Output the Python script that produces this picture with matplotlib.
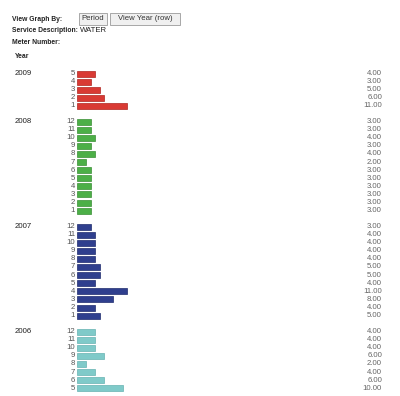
import matplotlib
matplotlib.use("Agg")
import matplotlib.pyplot as plt
from matplotlib.patches import FancyBboxPatch

years = ["2009", "2008", "2007", "2006"]
periods_2009 = [5, 4, 3, 2, 1]
values_2009 = [4.0, 3.0, 5.0, 6.0, 11.0]
periods_2008 = [12, 11, 10, 9, 8, 7, 6, 5, 4, 3, 2, 1]
values_2008 = [3.0, 3.0, 4.0, 3.0, 4.0, 2.0, 3.0, 3.0, 3.0, 3.0, 3.0, 3.0]
periods_2007 = [12, 11, 10, 9, 8, 7, 6, 5, 4, 3, 2, 1]
values_2007 = [3.0, 4.0, 4.0, 4.0, 4.0, 5.0, 5.0, 4.0, 11.0, 8.0, 4.0, 5.0]
periods_2006 = [12, 11, 10, 9, 8, 7, 6, 5]
values_2006 = [4.0, 4.0, 4.0, 6.0, 2.0, 4.0, 6.0, 10.0]

groups = [
    (years[0], periods_2009, values_2009, "#d93a34", "#b02520", 73.5),
    (years[1], periods_2008, values_2008, "#4caf47", "#3a8f36", 121.5),
    (years[2], periods_2007, values_2007, "#2f3f8e", "#1f2c6e", 226.5),
    (years[3], periods_2006, values_2006, "#7fcac9", "#66b2b1", 331.5),
]

W, H = 400, 396
fig = plt.figure(figsize=(W / 100, H / 100), dpi=100)
plt.rcParams['font.family'] = ['Liberation Sans', 'DejaVu Sans']

# overlay axes in pixel coordinates
ov = fig.add_axes([0, 0, 1, 1])
ov.set_xlim(0, W)
ov.set_ylim(H, 0)
ov.axis("off")

# bar axes: x in value units, y in pixels
x0_px = 77.0
px_per_unit = 4.55
ax = fig.add_axes([0, 0, 1, 1], facecolor="none")
ax.set_xlim(-x0_px / px_per_unit, (W - x0_px) / px_per_unit)
ax.set_ylim(H, 0)
ax.axis("off")

fs = 5.6
fsb = 4.9
dark = "#222222"
gray = "#555555"
lgray = "#666666"
step = 8.1

for yr, periods, vals, col, edge, ystart in groups:
    ys = [ystart + i * step for i in range(len(periods))]
    ax.barh(ys, vals, height=6.0, left=0, color=col, edgecolor=edge, linewidth=0.5)
    ov.text(15, ystart, yr, fontsize=fs, color=dark, va="center", ha="left")
    for y, p, v in zip(ys, periods, vals):
        ov.text(75, y, str(p), fontsize=fs, color=gray, va="center", ha="right")
        ov.text(382, y, f"{v:.2f}", fontsize=fs, color=lgray, va="center", ha="right")

# header
ov.text(12, 19.5, "View Graph By:", fontsize=fsb, fontweight="bold", color=dark, va="center")
for (x, w, label) in [(79, 28, "Period"), (110, 70, "View Year (row)")]:
    ov.add_patch(FancyBboxPatch((x, 13), w, 12, boxstyle="square,pad=0",
                                facecolor="#f0f0f0", edgecolor="#9a9a9a", linewidth=0.6))
    ov.text(x + w / 2, 19, label, fontsize=fs, color="#333333", va="center", ha="center")
ov.text(12, 31, "Service Description:", fontsize=fsb, fontweight="bold", color=dark, va="center")
ov.text(80, 31, "WATER", fontsize=fs, color=dark, va="center")
ov.text(12, 42, "Meter Number:", fontsize=fsb, fontweight="bold", color=dark, va="center")
ov.text(15, 57, "Year", fontsize=fsb, fontweight="bold", color=dark, va="center")

fig.savefig("out.png", dpi=100)
